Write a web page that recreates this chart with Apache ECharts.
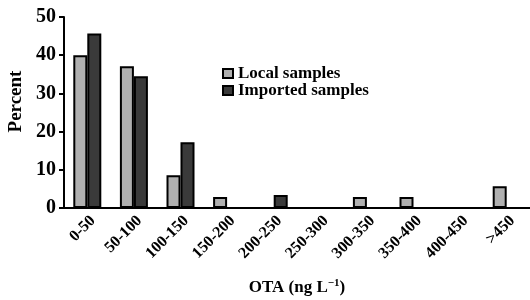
<!DOCTYPE html>
<html>
<head>
<meta charset="utf-8">
<script src="https://cdn.jsdelivr.net/npm/echarts@6/dist/echarts.min.js"></script>
<style>
  html, body { margin: 0; padding: 0; background: #fff; }
  #chart { width: 530px; height: 300px; }
</style>
</head>
<body>
<div id="chart"></div>
<script>
// OTA concentration bins
const categories = ['0-50', '50-100', '100-150', '150-200', '200-250', '250-300', '300-350', '350-400', '400-450', '>450']
const localSamples = [40, 37.1, 8.6, 2.9, 0, 0, 2.9, 2.9, 0, 5.7]
const importedSamples = [45.7, 34.5, 17.2, 0, 3.4, 0, 0, 0, 0, 0]
const yTicks = [0, 10, 20, 30, 40, 50]

const font = 'Liberation Serif, Times New Roman, serif'

const chart = echarts.init(document.getElementById('chart'))
chart.setOption({
  animation: false,
  legend: {
    orient: 'vertical',
    left: 217,
    top: 60,
    icon: 'rect',
    itemWidth: 10,
    itemHeight: 9,
    itemGap: 0,
    textStyle: { fontFamily: font, fontSize: 17, fontWeight: 'bold', color: '#000', lineHeight: 17 },
    data: ['Local samples', 'Imported samples']
  },
  grid: {
    left: 64,
    right: 0,
    top: 17,
    bottom: 92,
    outerBoundsMode: 'none'
  },
  xAxis: {
    type: 'category',
    data: categories,
    name: 'OTA (ng L{sup|−1})',
    nameLocation: 'middle',
    nameGap: 70,
    nameTextStyle: {
      fontFamily: font, fontSize: 17, fontWeight: 'bold', color: '#000',
      rich: { sup: { fontFamily: font, fontSize: 11, fontWeight: 'bold', color: '#000', verticalAlign: 'top', padding: [0, 0, 8, 0] } }
    },
    axisLine: { lineStyle: { color: '#000', width: 2 } },
    axisTick: { length: 6, lineStyle: { color: '#000', width: 2 } },
    axisLabel: {
      rotate: 45,
      interval: 0,
      margin: 16,
      padding: [0, -8, 0, 0],
      fontFamily: font,
      fontSize: 16,
      fontWeight: 'bold',
      color: '#000'
    }
  },
  yAxis: {
    type: 'value',
    min: 0,
    max: 50,
    interval: 10,
    name: 'Percent',
    nameLocation: 'middle',
    nameGap: 37,
    nameTextStyle: { fontFamily: font, fontSize: 19, fontWeight: 'bold', color: '#000', padding: [0, 0, 0, 22] },
    axisLine: { show: true, lineStyle: { color: '#000', width: 2 } },
    axisTick: { show: true, length: 5, lineStyle: { color: '#000', width: 2 } },
    axisLabel: {
      fontFamily: font,
      fontSize: 20,
      fontWeight: 'bold',
      color: '#000',
      margin: 8,
      formatter: v => yTicks.includes(v) ? String(v) : ''
    },
    splitLine: { show: false }
  },
  series: [
    {
      name: 'Local samples',
      type: 'bar',
      barWidth: 14,
      barGap: '0%',
      itemStyle: { color: '#b0b0b0', borderColor: '#000', borderWidth: 2 },
      data: localSamples.map(v => v === 0 ? null : v)
    },
    {
      name: 'Imported samples',
      type: 'bar',
      barWidth: 14,
      itemStyle: { color: '#3a3a3a', borderColor: '#000', borderWidth: 2 },
      data: importedSamples.map(v => v === 0 ? null : v)
    }
  ]
})
</script>
</body>
</html>
